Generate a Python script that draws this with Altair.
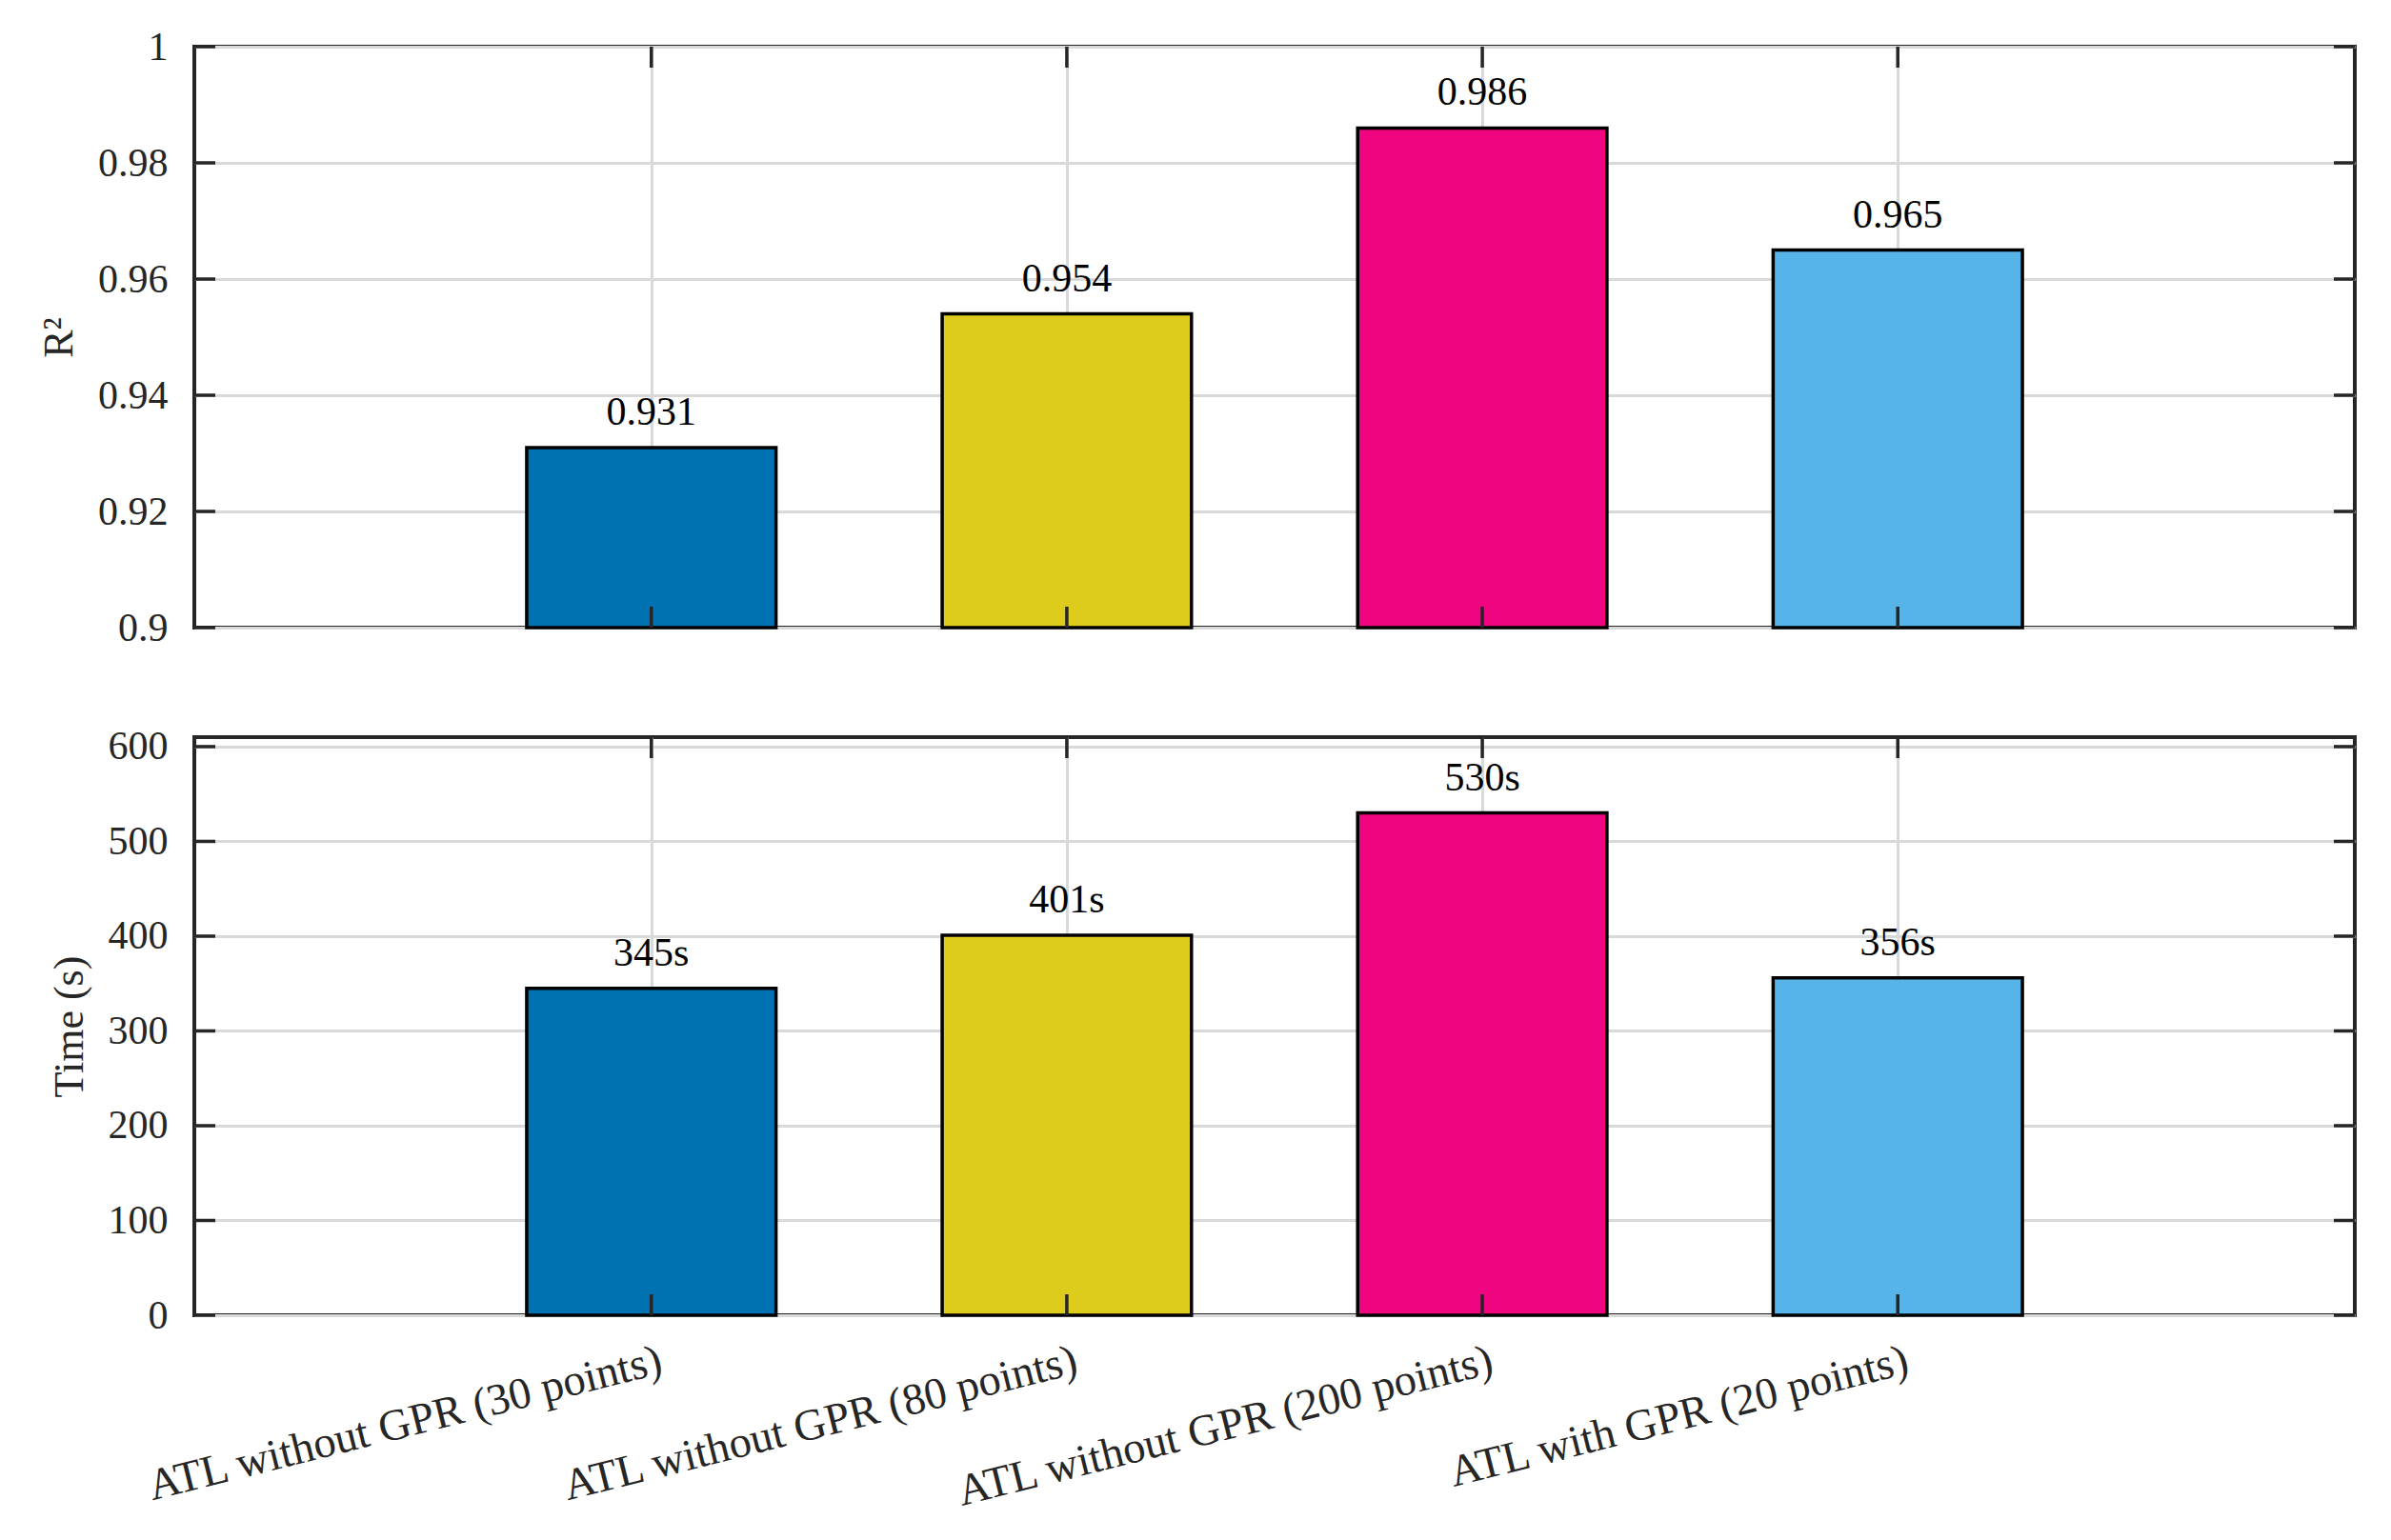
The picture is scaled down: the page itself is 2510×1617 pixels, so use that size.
import json
import altair as alt
import pandas as pd

categories = [
    "ATL without GPR (30 points)",
    "ATL without GPR (80 points)",
    "ATL without GPR (200 points)",
    "ATL with GPR (20 points)",
]
positions = [1, 2, 3, 4]
r2_values = [0.931, 0.954, 0.986, 0.965]
r2_labels = ["0.931", "0.954", "0.986", "0.965"]
time_values = [345, 401, 530, 356]
time_labels = ["345s", "401s", "530s", "356s"]
colors = ["#0072B2", "#DDCC1C", "#F0047F", "#56B4E9"]
r2_ticks = [0.9, 0.92, 0.94, 0.96, 0.98, 1.0]
time_ticks = [0, 100, 200, 300, 400, 500, 600]
r2_domain = [0.9, 1.0]
time_domain = [0, 610]
x_domain = [-0.1, 5.1]

FONT = "Liberation Serif"
DARK = "#262626"
W = 2268
TICK = 22
LW = 3.5

label_expr = "[" + ",".join(json.dumps(c) for c in categories) + "][datum.value - 1]"


def panel(values, labels, ticks, domain, title, height, show_x_labels, fmt):
    df = pd.DataFrame({"pos": positions, "cat": categories, "value": values, "label": labels})
    xt = pd.DataFrame({"pos": positions})
    yt = pd.DataFrame({"value": ticks})
    xscale = alt.Scale(domain=x_domain, nice=False, zero=False)
    yscale = alt.Scale(domain=domain, nice=False, zero=False)
    if show_x_labels:
        xaxis = alt.Axis(values=positions, grid=True, ticks=False, domain=False, title=None,
                         labelExpr=label_expr, labelAngle=346, labelAlign="right",
                         labelBaseline="top", labelPadding=24, labelOffset=4, labelFontSize=46.5,
                         labelLimit=2000, labelOverlap=False)
    else:
        xaxis = alt.Axis(values=positions, grid=True, ticks=False, domain=False, title=None,
                         labels=False)
    yaxis = alt.Axis(values=ticks, grid=True, ticks=False, domain=False, title=title,
                     format=fmt, labelPadding=28, titlePadding=18)

    base = alt.Chart(df)
    bars = base.transform_calculate(
        lo="datum.pos - 0.3", hi="datum.pos + 0.3"
    ).mark_bar(stroke="black", strokeWidth=LW, opacity=1).encode(
        x=alt.X("lo:Q", scale=xscale, axis=xaxis, title=None),
        x2="hi:Q",
        y=alt.Y("value:Q", scale=yscale, axis=yaxis, title=title),
        y2=alt.datum(domain[0]),
        color=alt.Color("cat:N", scale=alt.Scale(domain=categories, range=colors), legend=None),
    )
    text = base.mark_text(font=FONT, fontSize=42, baseline="alphabetic", dy=-24,
                          color="black").encode(
        x=alt.X("pos:Q", scale=xscale, axis=xaxis, title=None),
        y=alt.Y("value:Q", scale=yscale, axis=yaxis, title=title),
        text="label:N",
    )
    tick_top = alt.Chart(xt).mark_rule(color=DARK, strokeWidth=LW).encode(
        x=alt.X("pos:Q", scale=xscale, axis=xaxis, title=None), y=alt.value(0), y2=alt.value(TICK))
    tick_bottom = alt.Chart(xt).mark_rule(color=DARK, strokeWidth=LW).encode(
        x=alt.X("pos:Q", scale=xscale, axis=xaxis, title=None), y=alt.value(height),
        y2=alt.value(height - TICK))
    tick_left = alt.Chart(yt).mark_rule(color=DARK, strokeWidth=LW).encode(
        y=alt.Y("value:Q", scale=yscale, axis=yaxis, title=title), x=alt.value(0), x2=alt.value(TICK))
    tick_right = alt.Chart(yt).mark_rule(color=DARK, strokeWidth=LW).encode(
        y=alt.Y("value:Q", scale=yscale, axis=yaxis, title=title), x=alt.value(W),
        x2=alt.value(W - TICK))
    return alt.layer(bars, text, tick_top, tick_bottom, tick_left, tick_right).properties(
        width=W, height=height)


top = panel(r2_values, r2_labels, r2_ticks, r2_domain, "R²", 610, False, "~g")
bottom = panel(time_values, time_labels, time_ticks, time_domain, "Time (s)", 607, True, "d")

chart = alt.vconcat(top, bottom, spacing=78).properties(
    padding={"left": 30, "top": 18, "right": 5, "bottom": 5}
).configure_view(
    stroke=DARK, strokeWidth=4
).configure_axis(
    labelFont=FONT, labelFontSize=42, labelColor=DARK,
    titleFont=FONT, titleFontSize=44, titleColor=DARK, titleFontWeight="normal",
    gridColor="#d9d9d9", gridWidth=3, gridOpacity=1,
)

chart.save("out.html", embed_options={"renderer": "svg", "actions": False})
